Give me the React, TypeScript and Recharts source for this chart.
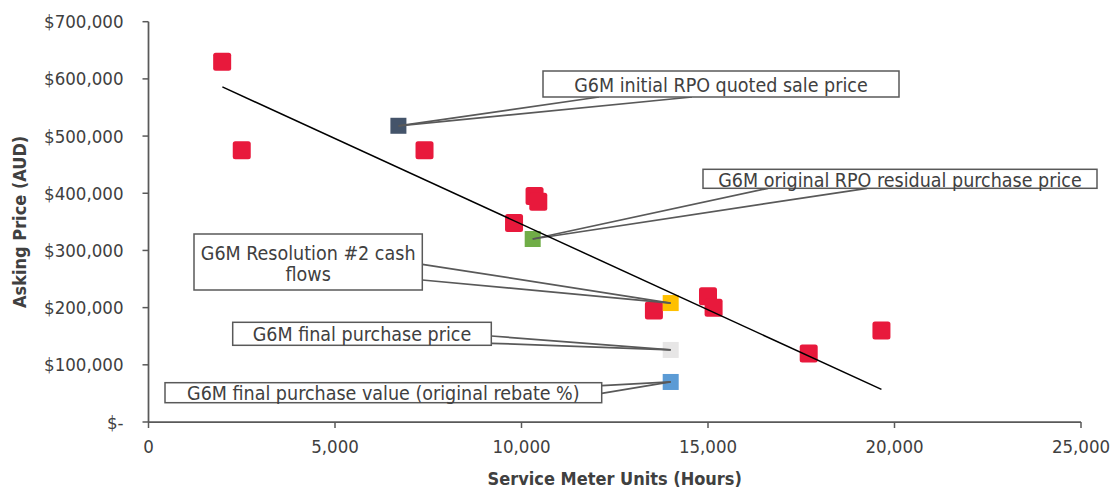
import React from 'react';
import { ScatterChart, Scatter, XAxis, YAxis, Label } from 'recharts';

// ---------- data ----------
const listingHours = [1975, 2500, 7400, 9800, 10350, 10450, 13550, 15000, 15150, 17700, 19650];
const listingPrices = [630000, 475000, 475000, 348000, 395000, 385000, 195000, 220000, 200000, 120000, 160000];

const refLabelLines = [
  ['G6M initial RPO quoted sale price'],
  ['G6M original RPO residual purchase price'],
  ['G6M Resolution #2 cash', 'flows'],
  ['G6M final purchase price'],
  ['G6M final purchase value (original rebate %)'],
];
const refHours = [6700, 10300, 14000, 14000, 14000];
const refPrices = [518000, 320000, 208000, 126000, 70000];
const refColors = ['#44546A', '#70AD47', '#FFC000', '#E7E6E6', '#5B9BD5'];

const trendHours = [1980, 19650];
const trendPrices = [586000, 57000];

const xTicks = [0, 5000, 10000, 15000, 20000, 25000];
const yTicks = [0, 100000, 200000, 300000, 400000, 500000, 600000, 700000];

const xTitle = 'Service Meter Units (Hours)';
const yTitle = 'Asking Price (AUD)';

// ---------- styles / layout ----------
const FONT = '"DejaVu Sans Condensed", "DejaVu Sans", sans-serif';
const TEXT = '#404040';
const AXIS = '#595959';
const RED = '#E8193C';

const W = 1112;
const H = 489;
const PLOT_LEFT = 148.5;
const PLOT_TOP = 21.7;
const PLOT_RIGHT = 1081;
const PLOT_BOTTOM = 422;
const X_AXIS_H = 63;

// callout box placement (annotation layout, pixels): [x, y, w, h], text baselines, wedge anchors
const CALLOUT_LAYOUT = [
  { box: [543, 71, 356, 26], base: [91.5], anchors: [[599, 97], [692, 97]] },
  { box: [703, 169.3, 394, 19], base: [186.5], anchors: [[768, 188.3], [867, 188.3]] },
  { box: [194, 234, 228.3, 56], base: [259.5, 280.5], anchors: [[422.3, 264.3], [422.3, 280]] },
  { box: [232.7, 322.3, 258.6, 23], base: [341], anchors: [[491.3, 336], [491.3, 343.3]] },
  { box: [165, 382.7, 436.7, 20], base: [399.5], anchors: [[601.7, 385.7], [601.7, 393.3]] },
];

const listingData = listingHours.map((x, i) => ({ x, y: listingPrices[i] }));
const refData = refHours.map((x, i) => ({ x, y: refPrices[i], idx: i }));
const trendData = trendHours.map((x, i) => ({ x, y: trendPrices[i] }));

const RedSquare = (props: any) => {
  const { cx, cy } = props;
  if (cx == null || cy == null) return <g />;
  const s = 18;
  return <rect x={cx - s / 2} y={cy - s / 2} width={s} height={s} rx={2.5} ry={2.5} fill={RED} />;
};

const RefShape = (props: any) => {
  const { cx, cy, payload } = props;
  if (cx == null || cy == null || !payload) return <g />;
  const i = payload.idx;
  const L = CALLOUT_LAYOUT[i];
  const s = 16;
  const [bx, by, bw, bh] = L.box;
  return (
    <g>
      <rect x={cx - s / 2} y={cy - s / 2} width={s} height={s} fill={refColors[i]} />
      {L.anchors.map(([ax, ay], k) => (
        <line key={k} x1={ax} y1={ay} x2={cx} y2={cy} stroke={AXIS} strokeWidth={1.75} />
      ))}
      <rect x={bx} y={by} width={bw} height={bh} fill="#fff" stroke={AXIS} strokeWidth={1.5} />
      {refLabelLines[i].map((t, k) => (
        <text
          key={k}
          x={bx + bw / 2}
          y={L.base[k]}
          textAnchor="middle"
          fontFamily={FONT}
          fontSize={19.5}
          fill={TEXT}
        >
          {t}
        </text>
      ))}
    </g>
  );
};

const NoShape = () => <g />;

const fmtX = (v: number) => v.toLocaleString('en-US');
const fmtY = (v: number) => (v === 0 ? '$-' : '$' + v.toLocaleString('en-US'));

export default function App() {
  return (
    <div style={{ position: 'absolute', left: 0, top: 0, width: W, height: H, background: '#fff' }}>
      <ScatterChart
        width={W}
        height={H}
        margin={{ top: PLOT_TOP, right: W - PLOT_RIGHT, bottom: H - PLOT_BOTTOM - X_AXIS_H, left: 0 }}
      >
        <XAxis
          type="number"
          dataKey="x"
          domain={[0, 25000]}
          ticks={xTicks}
          tickFormatter={fmtX}
          height={X_AXIS_H}
          axisLine={{ stroke: AXIS, strokeWidth: 1.75 }}
          tickLine={{ stroke: AXIS, strokeWidth: 1.5 }}
          tickSize={6}
          tickMargin={12}
          tick={{ fill: TEXT, fontSize: 18.5, fontFamily: FONT }}
        >
          <Label
            content={() => (
              <text
                x={(PLOT_LEFT + PLOT_RIGHT) / 2}
                y={485}
                textAnchor="middle"
                fontFamily={FONT}
                fontSize={18}
                fontWeight="bold"
                fill={TEXT}
              >
                {xTitle}
              </text>
            )}
          />
        </XAxis>
        <YAxis
          type="number"
          dataKey="y"
          domain={[0, 700000]}
          ticks={yTicks}
          tickFormatter={fmtY}
          width={PLOT_LEFT}
          axisLine={{ stroke: AXIS, strokeWidth: 1.75 }}
          tickLine={{ stroke: AXIS, strokeWidth: 1.5 }}
          tickSize={6}
          tickMargin={19}
          tick={{ fill: TEXT, fontSize: 18.5, fontFamily: FONT }}
        >
          <Label
            content={() => {
              const cx = 26;
              const cy = (PLOT_TOP + PLOT_BOTTOM) / 2;
              return (
                <text
                  x={cx}
                  y={cy}
                  transform={`rotate(-90, ${cx}, ${cy})`}
                  textAnchor="middle"
                  fontFamily={FONT}
                  fontSize={18}
                  fontWeight="bold"
                  fill={TEXT}
                >
                  {yTitle}
                </text>
              );
            }}
          />
        </YAxis>
        <Scatter name="Listings" data={listingData} shape={RedSquare} isAnimationActive={false} />
        <Scatter name="G6M reference points" data={refData} shape={RefShape} isAnimationActive={false} />
        <Scatter
          name="Trend"
          data={trendData}
          shape={NoShape}
          line={{ stroke: '#000', strokeWidth: 1.5 }}
          isAnimationActive={false}
        />
      </ScatterChart>
    </div>
  );
}
